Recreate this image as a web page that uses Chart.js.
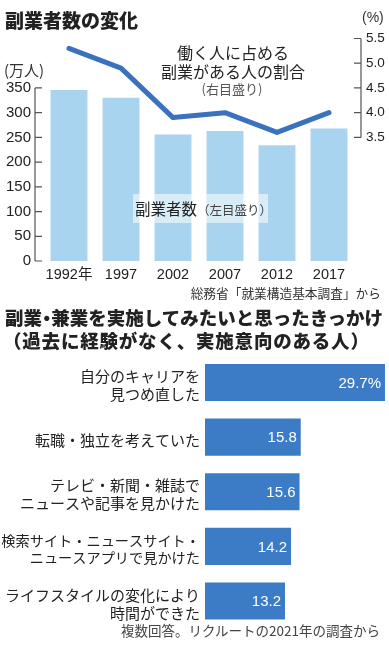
<!DOCTYPE html>
<html><head><meta charset="utf-8">
<script src="https://cdn.jsdelivr.net/npm/chart.js@4"></script>
<style>
html,body{margin:0;padding:0;background:#fff;width:389px;height:647px;overflow:hidden;}
body{position:relative;font-family:"Noto Sans CJK JP","Noto Sans",sans-serif;color:#222;}
.abs{position:absolute;white-space:nowrap;line-height:1;}
.nd{font-feature-settings:"palt";}
canvas{position:absolute;left:0;}
#c1{top:0;}
#c2{top:350px;}
</style></head><body>
<canvas id="c1" width="389" height="290"></canvas>
<canvas id="c2" width="389" height="297"></canvas>

<div class="abs" style="left:5px;top:10px;font-size:19px;font-weight:900;">副業者数の変化</div>
<div class="abs" style="left:4px;top:62px;font-size:15px;color:#333;">(万人)</div>
<div class="abs" style="left:362px;top:10px;font-size:14px;font-family:'Liberation Sans',Arial,sans-serif;color:#333;">(%)</div>
<div class="abs" style="left:233px;top:43px;transform:translateX(-50%);font-size:16px;text-align:center;line-height:19px;">働く人に占める<br>副業がある人の割合</div>
<div class="abs" style="left:232px;top:82px;transform:translateX(-50%);font-size:13px;color:#555;">(右目盛り)</div>
<div class="abs" style="left:133px;top:194px;width:135px;height:29px;line-height:29px;background:rgba(255,255,255,0.55);">
  <span style="font-size:15.5px;margin-left:2px;">副業者数</span><span style="font-size:12.5px;color:#444;">（左目盛り）</span></div>
<div class="abs" style="right:8px;top:287px;font-size:12.7px;color:#333;">総務省「就業構造基本調査」から</div>

<div class="abs" style="left:5px;top:308px;font-size:18.5px;font-weight:900;">副業<span class="nd">・</span>兼業を実施してみたいと思ったきっかけ</div>
<div class="abs" style="left:3px;top:331px;font-size:18.5px;font-weight:900;letter-spacing:0.8px;">（過去に経験がなく、実施意向のある人）</div>
<div class="abs" style="right:9px;top:624px;font-size:13.5px;color:#444;">複数回答。リクルートの2021年の調査から</div>

<script>
// ---- Data: top chart ----
const years = ['1992年', '1997', '2002', '2007', '2012', '2017'];
const sideJobWorkers = [346, 330, 256, 263, 234, 268];   // 万人 (left axis)
const sideJobRatio = [5.3, 4.9, 3.9, 4.0, 3.6, 4.0];     // % (right axis)
const leftTicks = [0, 50, 100, 150, 200, 250, 300, 350];
const rightTicks = [3.5, 4.0, 4.5, 5.0, 5.5];

// ---- Data: bottom chart ----
const reasons = [
  ['自分のキャリアを', '見つめ直した'],
  ['転職・独立を考えていた'],
  ['テレビ・新聞・雑誌で', 'ニュースや記事を見かけた'],
  ['検索サイト・ニュースサイト・', 'ニュースアプリで見かけた'],
  ['ライフスタイルの変化により', '時間ができた']
];
const reasonShares = [29.7, 15.8, 15.6, 14.2, 13.2];

const NUM = "'Liberation Sans',Arial,sans-serif";

const axisLines = {
  id: 'axisLines',
  afterDraw(chart) {
    const { ctx, chartArea, scales } = chart;
    const y = scales.y, y2 = scales.y2;
    ctx.save();
    ctx.strokeStyle = '#555';
    ctx.lineWidth = 1.2;
    ctx.beginPath();
    const lx = chartArea.left - 8;
    ctx.moveTo(lx, y.getPixelForValue(leftTicks[0]));
    ctx.lineTo(lx, y.getPixelForValue(leftTicks[leftTicks.length - 1]));
    leftTicks.forEach(v => { const p = y.getPixelForValue(v); ctx.moveTo(lx, p); ctx.lineTo(lx + 7, p); });
    const rx = chartArea.right + 6;
    ctx.moveTo(rx, y2.getPixelForValue(rightTicks[0]));
    ctx.lineTo(rx, y2.getPixelForValue(rightTicks[rightTicks.length - 1]));
    rightTicks.forEach(v => { const p = y2.getPixelForValue(v); ctx.moveTo(rx, p); ctx.lineTo(rx - 7, p); });
    ctx.stroke();
    ctx.restore();
  }
};

new Chart(document.getElementById('c1'), {
  type: 'bar',
  data: {
    labels: years,
    datasets: [
      {
        type: 'line', data: sideJobRatio, yAxisID: 'y2', order: 0,
        borderColor: '#3b72bd', borderWidth: 5, pointRadius: 0, tension: 0,
        borderCapStyle: 'round', borderJoinStyle: 'round', fill: false
      },
      {
        type: 'bar', data: sideJobWorkers, yAxisID: 'y', order: 1,
        backgroundColor: '#a9d4ef', barPercentage: 0.71, categoryPercentage: 1.0
      }
    ]
  },
  options: {
    responsive: false, animation: false,
    layout: { padding: { top: 38.5, left: 0, right: 0, bottom: 0 } },
    plugins: { legend: { display: false }, tooltip: { enabled: false } },
    scales: {
      x: {
        grid: { display: false, drawTicks: false }, border: { display: false },
        ticks: { color: '#222', font: { family: NUM + ",'Noto Sans CJK JP'", size: 14.5 }, padding: 5, maxRotation: 0, autoSkip: false },
        afterFit(s) { s.height = 29; }
      },
      y: {
        position: 'left', min: 0, max: 450,
        grid: { display: false, drawTicks: false }, border: { display: false },
        ticks: { stepSize: 50, autoSkip: false, padding: 12, color: '#222', font: { family: NUM, size: 15 },
          callback: v => (leftTicks.includes(v) ? String(v) : '') },
        afterFit(s) { s.width = 43; }
      },
      y2: {
        position: 'right', min: 1.0, max: 5.5,
        grid: { display: false, drawTicks: false }, border: { display: false },
        ticks: { stepSize: 0.5, autoSkip: false, padding: 11, color: '#222', font: { family: NUM, size: 13.5 },
          callback: v => (v >= 3.49 ? Number(v).toFixed(1) : '') },
        afterFit(s) { s.width = 34; }
      }
    }
  },
  plugins: [axisLines]
});

const valueLabels = {
  id: 'valueLabels',
  afterDatasetsDraw(chart) {
    const { ctx } = chart;
    const meta = chart.getDatasetMeta(0);
    ctx.save();
    ctx.fillStyle = '#fff';
    ctx.font = '15px ' + NUM;
    ctx.textAlign = 'right';
    ctx.textBaseline = 'middle';
    meta.data.forEach((bar, i) => {
      const v = chart.data.datasets[0].data[i];
      const txt = v.toFixed(1) + (i === 0 ? '%' : '');
      ctx.fillText(txt, bar.x - 4, bar.y + 1);
    });
    ctx.restore();
  }
};

const longest = lbl => Math.max(...[].concat(lbl).map(s => s.length));

new Chart(document.getElementById('c2'), {
  type: 'bar',
  data: {
    labels: reasons,
    datasets: [{
      data: reasonShares, backgroundColor: '#3c7cc7',
      barPercentage: 0.68, categoryPercentage: 1.0
    }]
  },
  options: {
    indexAxis: 'y', responsive: false, animation: false,
    layout: { padding: { top: 5.2, bottom: 18.7, left: 0, right: 2.2 } },
    plugins: { legend: { display: false }, tooltip: { enabled: false } },
    scales: {
      x: { display: false, min: 0, max: 30 },
      y: {
        grid: { display: false, drawTicks: false }, border: { display: false },
        ticks: {
          color: '#222', padding: 5, autoSkip: false, labelOffset: 3,
          font: c => ({ family: "'Noto Sans CJK JP',sans-serif", size: (c.tick && longest(c.tick.label) > 13) ? 14.2 : 15, lineHeight: 1.2 })
        },
        afterFit(s) { s.width = 205; s.paddingTop = 0; s.paddingBottom = 0; }
      }
    }
  },
  plugins: [valueLabels]
});
</script>
</body></html>
